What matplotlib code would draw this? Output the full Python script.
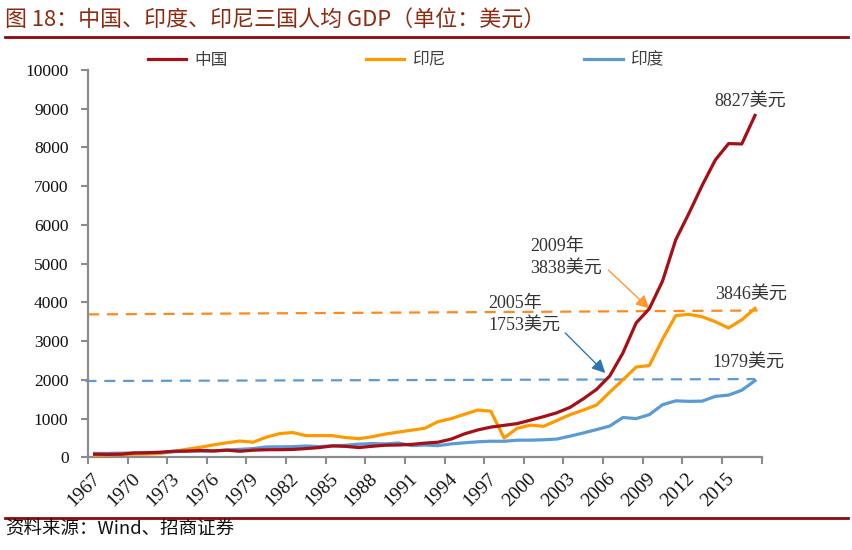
import matplotlib
matplotlib.use('Agg')
import matplotlib.pyplot as plt
import matplotlib.transforms as mtransforms
from matplotlib.lines import Line2D

# ---------------- data ----------------
years = list(range(1967, 2018))
china = [80, 75, 80, 112, 118, 132, 157, 160, 178, 165,
         185, 156, 184, 195, 197, 203, 225, 251, 294, 282,
         252, 284, 311, 318, 333, 366, 390, 470, 605, 705,
         780, 825, 870, 960, 1050, 1150, 1290, 1510, 1753, 2099,
         2694, 3468, 3838, 4550, 5618, 6300, 7020, 7680, 8100, 8090,
         8827]
indonesia = [50, 60, 72, 80, 85, 100, 150, 210, 260, 320,
             375, 420, 390, 520, 610, 640, 560, 560, 560, 510,
             480, 530, 600, 650, 700, 750, 920, 1000, 1110, 1220,
             1190, 500, 750, 830, 800, 950, 1100, 1220, 1350, 1680,
             2000, 2330, 2370, 3050, 3660, 3690, 3630, 3500, 3340, 3550,
             3846]
india = [100, 100, 107, 112, 119, 122, 144, 163, 158, 161,
         186, 206, 224, 267, 271, 275, 292, 277, 296, 310,
         340, 354, 346, 368, 303, 317, 301, 346, 374, 400,
         415, 413, 442, 443, 452, 471, 547, 628, 715, 807,
         1028, 999, 1102, 1358, 1458, 1444, 1450, 1574, 1606, 1732,
         1979]
series_names = ['中国', '印尼', '印度']
yticks = list(range(0, 10001, 1000))
xlabel_years = list(range(1967, 2018, 3))

# dashed reference lines (start / end)
ref_idn_x = [1966.5, 2017.2]
ref_idn_y = [3690, 3790]
ref_ind_x = [1966.3, 2017.0]
ref_ind_y = [1970, 2020]

title = '图 18：中国、印度、印尼三国人均 GDP（单位：美元）'
source = '资料来源：Wind、招商证券'

# annotation texts
label_china_end = '8827美元'
label_idn_end = '3846美元'
label_ind_end = '1979美元'
label_2009 = '2009年\n3838美元'
label_2005 = '2005年\n1753美元'

# ---------------- style ----------------
C_CHINA = '#A50F15'
C_IDN = '#FF9900'
C_IND = '#5B9BD5'
C_IDN_DASH = '#FF8A1C'
C_IND_DASH = '#5B9BD5'
C_AXIS = '#8C8C8C'
C_TEXT = '#333333'
C_RED = '#8B0A0A'

CJK = ['Noto Sans CJK SC', 'DejaVu Sans']
MIX = ['Liberation Serif', 'Noto Sans CJK SC']
plt.rcParams['font.family'] = CJK

W, H = 853, 550
fig = plt.figure(figsize=(W / 100, H / 100), dpi=100)

x0, x1 = 88, 761.6
y0, y1 = 457.3, 70
ax = fig.add_axes([x0 / W, 1 - y0 / H, (x1 - x0) / W, (y0 - y1) / H])

ax.plot(years, china, color=C_CHINA, lw=2.3, label=series_names[0], solid_joinstyle='round', zorder=4)
ax.plot(years, indonesia, color=C_IDN, lw=2.3, label=series_names[1], solid_joinstyle='round', zorder=3)
ax.plot(years, india, color=C_IND, lw=2.3, label=series_names[2], solid_joinstyle='round', zorder=3)

ax.plot(ref_idn_x, ref_idn_y, color=C_IDN_DASH, lw=1.6, dashes=(5, 3.5), zorder=2, clip_on=False)
ax.plot(ref_ind_x, ref_ind_y, color=C_IND_DASH, lw=1.6, dashes=(5, 3.5), zorder=2, clip_on=False)

ax.set_xlim(1966.5, 2017.5)
ax.set_ylim(0, 10000)

for s in ['top', 'right']:
    ax.spines[s].set_visible(False)
for s in ['left', 'bottom']:
    ax.spines[s].set_color(C_AXIS)
    ax.spines[s].set_linewidth(1.6)

ax.set_yticks(yticks)
ax.set_yticklabels([str(v) for v in yticks], fontfamily='Liberation Serif', fontsize=12.5, color='#111111')
ax.tick_params(axis='y', direction='out', length=5, width=1.5, color=C_AXIS, pad=9)

# category boundary ticks (major, no labels), label ticks (minor, no mark)
ax.set_xticks([1966.5 + 3 * k for k in range(18)])
ax.set_xticklabels([])
ax.tick_params(axis='x', which='major', direction='out', length=5, width=1.5, color=C_AXIS)
ax.set_xticks(xlabel_years, minor=True)
ax.set_xticklabels([str(y) for y in xlabel_years], minor=True,
                   fontfamily='Liberation Serif', fontsize=14, color='#111111')
ax.tick_params(axis='x', which='minor', length=0, pad=9)
offset = mtransforms.ScaledTranslation(-3 / 100, 0, fig.dpi_scale_trans)
for lab in ax.get_xticklabels(minor=True):
    lab.set_rotation(45)
    lab.set_ha('right')
    lab.set_va('top')
    lab.set_rotation_mode('anchor')
    lab.set_transform(lab.get_transform() + offset)

# legend
leg = fig.legend(loc='center', bbox_to_anchor=(406 / W, 1 - 60 / H), ncol=3, frameon=False,
                 handlelength=2.3, handletextpad=0.5, columnspacing=8.3,
                 prop={'family': CJK, 'size': 12})
for t in leg.get_texts():
    t.set_color('#404040')

# annotations
def px2data(px, py):
    return (1966.5 + (px - x0) / 13.2, (y0 - py) / (y0 - y1) * 10000)

tx, ty = px2data(750, 101)
ax.text(tx, ty, label_china_end, ha='center', va='center', fontsize=13, family=MIX, color=C_TEXT)
tx, ty = px2data(751, 294)
ax.text(tx, ty, label_idn_end, ha='center', va='center', fontsize=13, family=MIX, color=C_TEXT)
tx, ty = px2data(748, 362)
ax.text(tx, ty, label_ind_end, ha='center', va='center', fontsize=13, family=MIX, color=C_TEXT)

tx, ty = px2data(530, 257)
ax.text(tx, ty, label_2009, ha='left', va='center', fontsize=13, family=MIX, color=C_TEXT, linespacing=1.35)
tx, ty = px2data(488, 314)
ax.text(tx, ty, label_2005, ha='left', va='center', fontsize=13, family=MIX, color=C_TEXT, linespacing=1.35)

ax.annotate('', xy=(2009, 3838), xytext=px2data(608, 270),
            arrowprops=dict(arrowstyle='-|>', color='#FF9933', lw=1.0, mutation_scale=20,
                            shrinkA=0, shrinkB=0))
ax.annotate('', xy=px2data(605, 373), xytext=px2data(565, 333),
            arrowprops=dict(arrowstyle='-|>', color='#2E75B6', lw=1.0, mutation_scale=20,
                            shrinkA=0, shrinkB=0))

# title, rules, source
fig.text(5 / W, 1 - 21 / H, title, ha='left', va='center', fontsize=15.8, color='#8E2A10', family=CJK)
fig.add_artist(Line2D([5 / W, 848 / W], [1 - 37 / H] * 2, color=C_RED, lw=2))
fig.add_artist(Line2D([5 / W, 848 / W], [1 - 517.5 / H] * 2, color=C_RED, lw=2))
fig.text(5 / W, 1 - 530 / H, source, ha='left', va='center', fontsize=13.3, color='#111111', family=CJK)

fig.savefig('out.png', dpi=100)
